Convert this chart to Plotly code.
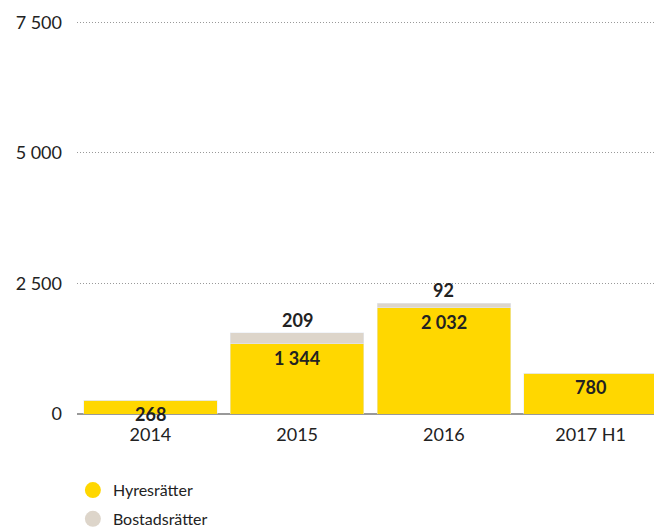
import plotly.graph_objects as go

categories = ["2014", "2015", "2016", "2017 H1"]
hyresratter = [268, 1344, 2032, 780]
bostadsratter = [0, 209, 92, 0]
hyres_labels = ["268", "1 344", "2 032", "780"]
bostad_labels = ["", "209", "92", ""]
y_tickvals = [0, 2500, 5000, 7500]
y_ticktext = ["0", "2 500", "5 000", "7 500"]

YELLOW = "#FFD700"
GREY = "#DDD5CA"
TEXT = "#222222"
FONT = "Lato"

fig = go.Figure()
fig.add_trace(go.Bar(x=categories, y=hyresratter, marker_color=YELLOW,
                     showlegend=False, name="Hyresrätter"))
fig.add_trace(go.Bar(x=categories, y=bostadsratter, marker_color=GREY,
                     showlegend=False, name="Bostadsrätter"))
# legend entries with circle markers
fig.add_trace(go.Scatter(x=[categories[0]], y=[None], mode="markers", name="Hyresrätter",
                         marker=dict(color=YELLOW, size=18, symbol="circle"),
                         legendgroup="a"))
fig.add_trace(go.Scatter(x=[categories[0]], y=[None], mode="markers", name="Bostadsrätter",
                         marker=dict(color=GREY, size=18, symbol="circle"),
                         legendgroup="b"))

annotations = []
for i, (h, b, hl, bl) in enumerate(zip(hyresratter, bostadsratter, hyres_labels, bostad_labels)):
    annotations.append(dict(x=i, y=h, text=f"<b>{hl}</b>", showarrow=False,
                            yanchor="top", yshift=-1,
                            font=dict(family=FONT, size=18, color=TEXT)))
    if bl:
        annotations.append(dict(x=i, y=h + b, text=f"<b>{bl}</b>", showarrow=False,
                                yanchor="bottom", yshift=0,
                                font=dict(family=FONT, size=18, color=TEXT)))

fig.update_layout(
    width=662, height=528,
    margin=dict(l=69, r=6, t=9, b=122, autoexpand=False),
    barmode="stack", bargap=0.09,
    plot_bgcolor="white", paper_bgcolor="white",
    font=dict(family=FONT, size=18, color=TEXT),
    annotations=annotations,
    legend=dict(xref="container", yref="container", x=0.098, y=0.119,
                xanchor="left", yanchor="top", orientation="v",
                tracegroupgap=5,
                font=dict(family=FONT, size=16, color=TEXT)),
    xaxis=dict(type="category", categoryorder="array", categoryarray=categories,
               range=[-0.5, 3.5],
               showgrid=False, ticks="", showline=False,
               ticklabelstandoff=8,
               tickfont=dict(family=FONT, size=18, color=TEXT)),
    yaxis=dict(range=[0, 7600], tickvals=y_tickvals, ticktext=y_ticktext,
               showgrid=True, gridcolor="#999999", griddash="1px,2px", gridwidth=1,
               zeroline=True, zerolinecolor="#999999", zerolinewidth=2,
               ticklabelstandoff=14,
               tickfont=dict(family=FONT, size=18, color=TEXT)),
)

fig.write_html("out.html")
